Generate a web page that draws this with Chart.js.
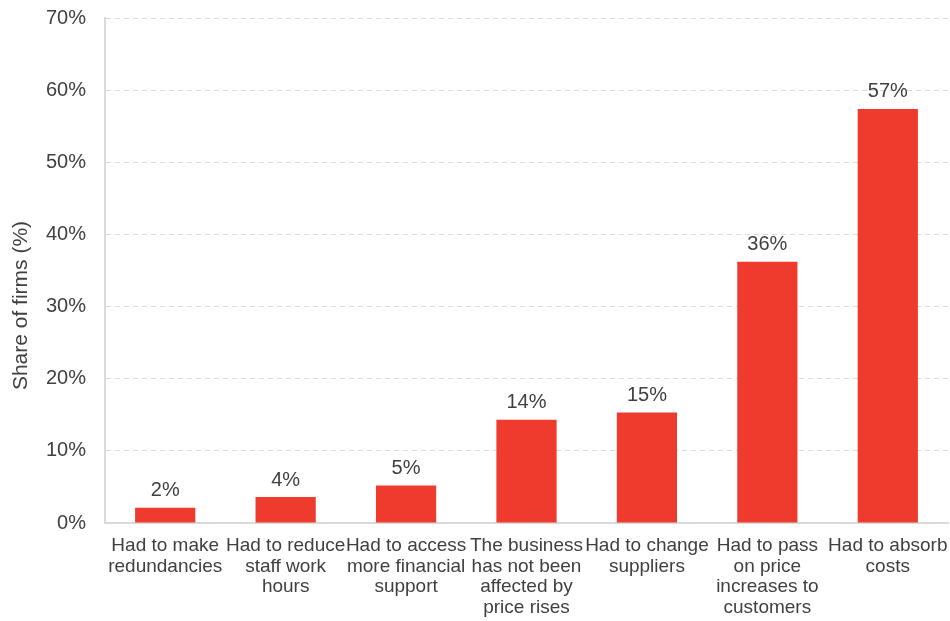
<!DOCTYPE html>
<html>
<head>
<meta charset="utf-8">
<script src="https://cdn.jsdelivr.net/npm/chart.js@4"></script>
<style>
  html, body { margin: 0; padding: 0; background: #fff; }
  #wrap { width: 950px; height: 621px; }
</style>
</head>
<body>
<div id="wrap"><canvas id="chart" width="950" height="621"></canvas></div>
<script>
const categories = [
  ['Had to make', 'redundancies'],
  ['Had to reduce', 'staff work', 'hours'],
  ['Had to access', 'more financial', 'support'],
  ['The business', 'has not been', 'affected by', 'price rises'],
  ['Had to change', 'suppliers'],
  ['Had to pass', 'on price', 'increases to', 'customers'],
  ['Had to absorb', 'costs']
];
const shareValues = [2.1, 3.6, 5.2, 14.3, 15.3, 36.2, 57.4];
const valueLabels = ['2%', '4%', '5%', '14%', '15%', '36%', '57%'];
const yTicks = [0, 10, 20, 30, 40, 50, 60, 70];
const yTitle = 'Share of firms (%)';

const FONT = 'Liberation Sans, Arial, sans-serif';
const TEXT = '#404040';

// value labels above the bars + the rotated y axis title
const barLabels = {
  id: 'barLabels',
  afterDatasetsDraw(chart) {
    const ctx = chart.ctx;
    const meta = chart.getDatasetMeta(0);
    ctx.save();
    ctx.font = '20px ' + FONT;
    ctx.fillStyle = TEXT;
    ctx.textAlign = 'center';
    ctx.textBaseline = 'middle';
    meta.data.forEach((bar, i) => {
      ctx.fillText(valueLabels[i], bar.x, bar.y - 17);
    });
    // y title sits a bit below the middle of the plot, like the original
    const area = chart.chartArea;
    ctx.font = '21px ' + FONT;
    ctx.translate(21, (area.top + area.bottom) / 2 + 35);
    ctx.rotate(-Math.PI / 2);
    ctx.fillText(yTitle, 0, 0);
    ctx.restore();
  }
};

new Chart(document.getElementById('chart'), {
  type: 'bar',
  data: {
    labels: categories,
    datasets: [{
      data: shareValues,
      backgroundColor: '#ef3b2d',
      barPercentage: 0.5,
      categoryPercentage: 1.0
    }]
  },
  options: {
    responsive: false,
    animation: false,
    layout: { padding: { top: 18, right: 2, left: 0, bottom: 0 } },
    plugins: {
      legend: { display: false },
      tooltip: { enabled: false }
    },
    scales: {
      x: {
        grid: { display: false, drawTicks: false },
        border: { color: '#d9d9d9', width: 2 },
        ticks: {
          color: TEXT,
          font: { family: FONT, size: 19, lineHeight: 1.1 },
          maxRotation: 0,
          autoSkip: false,
          padding: 12
        },
        afterFit: (axis) => {
          axis.height = 98;
          axis.paddingLeft = 0;
          axis.paddingRight = 0;
        }
      },
      y: {
        min: 0,
        max: 70,
        afterBuildTicks: (axis) => { axis.ticks = yTicks.map(v => ({ value: v })); },
        grid: { color: '#d9d9d9', drawTicks: false },
        border: { color: '#d9d9d9', width: 2, dash: [5, 4] },
        ticks: {
          color: TEXT,
          font: { family: FONT, size: 20 },
          padding: 19,
          callback: v => v + '%'
        },
        afterFit: (axis) => {
          axis.width = 105;
          axis.paddingTop = 0;
          axis.paddingBottom = 0;
        }
      }
    }
  },
  plugins: [barLabels]
});
</script>
</body>
</html>
